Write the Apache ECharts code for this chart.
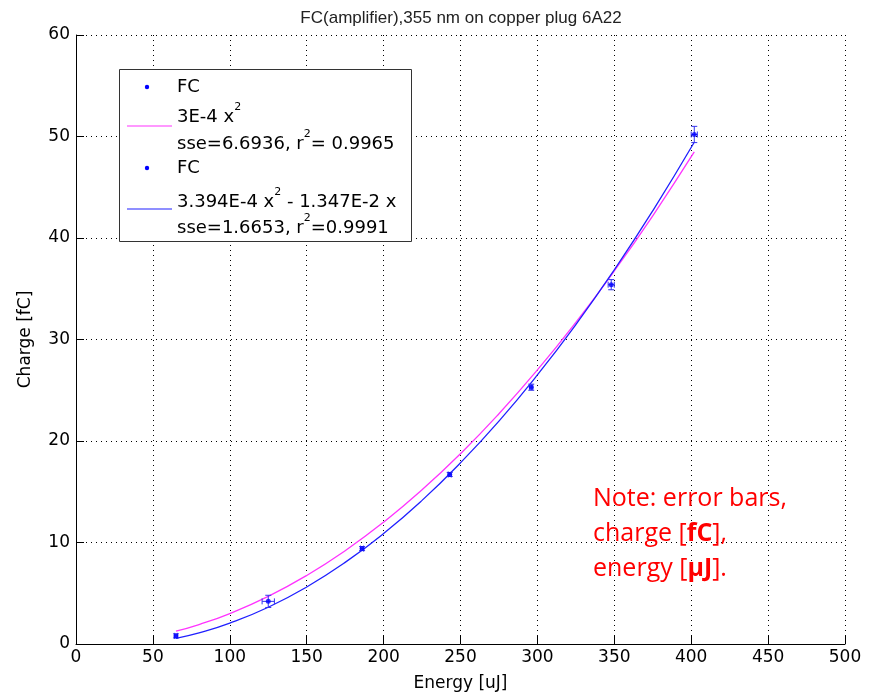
<!DOCTYPE html>
<html><head><meta charset="utf-8">
<script src="https://cdn.jsdelivr.net/npm/echarts@6/dist/echarts.min.js"></script>
<style>html,body{margin:0;padding:0;background:#fff}#c{width:875px;height:697px}</style>
</head><body><div id="c"></div>
<script>
// Measured data (energy uJ, charge fC) with error bars
const energy = [65, 125, 186, 243, 296, 348, 402];
const charge = [0.8, 4.2, 9.4, 16.7, 25.3, 35.4, 50.2];
const energyErr = [1, 4, 1, 1, 1, 2, 2];
const chargeErr = [0.2, 0.6, 0.2, 0.2, 0.3, 0.5, 0.8];
// Fit curves, sampled
const fitX = [65, 80, 100, 125, 150, 175, 200, 225, 250, 275, 300, 325, 350, 375, 402];
const fit1Y = [1.27, 1.92, 3.0, 4.69, 6.75, 9.19, 12.0, 15.19, 18.75, 22.69, 27.0, 31.69, 36.75, 42.19, 48.48];
const fit2Y = [0.56, 1.09, 2.05, 3.62, 5.62, 8.04, 10.88, 14.15, 17.85, 21.96, 26.51, 31.47, 36.86, 42.68, 49.43];
const xTicks = [0, 50, 100, 150, 200, 250, 300, 350, 400, 450, 500];
const yTicks = [0, 10, 20, 30, 40, 50, 60];

const chart = echarts.init(document.getElementById('c'));
const FONT = 'Liberation Sans, Arial, sans-serif';
const WFONT = 'DejaVu Sans, sans-serif';
const pts = energy.map((e, i) => [e, charge[i]]);
const errData = energy.map((e, i) => [e, charge[i], energyErr[i], chargeErr[i]]);
const legRich = {
  n: {fontFamily: WFONT, fontSize: 18, fill: '#000', lineHeight: 24, verticalAlign: 'bottom'},
  s: {fontFamily: WFONT, fontSize: 11, fill: '#000', lineHeight: 24, verticalAlign: 'top'}
};

const opt = {
  animation: false,
  backgroundColor: '#fff',
  title: {
    text: 'FC(amplifier),355 nm on copper plug 6A22',
    left: 456, top: 5, textAlign: 'center',
    textStyle: {fontFamily: FONT, fontSize: 17, fontWeight: 'normal', color: '#222'}
  },
  grid: {left: 76, top: 35, width: 769, height: 612},
  xAxis: {
    type: 'value', min: xTicks[0], max: xTicks[xTicks.length - 1], interval: 50,
    name: 'Energy [uJ]', nameLocation: 'middle', nameGap: 31,
    nameTextStyle: {fontFamily: WFONT, fontSize: 17, color: '#000'},
    axisLine: {lineStyle: {color: '#000', width: 1}},
    axisTick: {inside: true, length: 8, lineStyle: {color: '#000'}},
    axisLabel: {fontFamily: WFONT, fontSize: 17, color: '#000', margin: 5},
    splitLine: {show: true, lineStyle: {color: '#000', type: [1, 4], width: 1}}
  },
  yAxis: {
    type: 'value', min: yTicks[0], max: yTicks[yTicks.length - 1], interval: 10,
    name: 'Charge [fC]', nameLocation: 'middle', nameGap: 42, nameRotate: 90,
    nameTextStyle: {fontFamily: WFONT, fontSize: 17, color: '#000'},
    axisLine: {show: true, lineStyle: {color: '#000', width: 1}},
    axisTick: {show: true, inside: true, length: 8, lineStyle: {color: '#000'}},
    axisLabel: {fontFamily: WFONT, fontSize: 17, color: '#000', margin: 6},
    splitLine: {show: true, lineStyle: {color: '#000', type: [1, 4], width: 1}}
  },
  series: [
    {type: 'line', data: fitX.map((x, i) => [x, fit1Y[i]]), smooth: true, showSymbol: false,
      lineStyle: {color: '#ff33ff', width: 1.3}, z: 2},
    {type: 'line', data: fitX.map((x, i) => [x, fit2Y[i]]), smooth: true, showSymbol: false,
      lineStyle: {color: '#2020ff', width: 1.3}, z: 3},
    {type: 'custom', data: errData, z: 4,
      renderItem: function (params, api) {
        const x = api.value(0), y = api.value(1), ex = api.value(2), ey = api.value(3);
        const c = api.coord([x, y]);
        const l = api.coord([x - ex, y]), r = api.coord([x + ex, y]);
        const t = api.coord([x, y + ey]), b = api.coord([x, y - ey]);
        const cap = 3;
        const st = {stroke: '#3333ee', lineWidth: 1, fill: null};
        return {type: 'group', children: [
          {type: 'line', shape: {x1: l[0], y1: c[1], x2: r[0], y2: c[1]}, style: st},
          {type: 'line', shape: {x1: l[0], y1: c[1] - cap, x2: l[0], y2: c[1] + cap}, style: st},
          {type: 'line', shape: {x1: r[0], y1: c[1] - cap, x2: r[0], y2: c[1] + cap}, style: st},
          {type: 'line', shape: {x1: c[0], y1: t[1], x2: c[0], y2: b[1]}, style: st},
          {type: 'line', shape: {x1: c[0] - cap, y1: t[1], x2: c[0] + cap, y2: t[1]}, style: st},
          {type: 'line', shape: {x1: c[0] - cap, y1: b[1], x2: c[0] + cap, y2: b[1]}, style: st}
        ]};
      }
    },
    {type: 'scatter', data: pts, symbol: 'circle', symbolSize: 5,
      itemStyle: {color: '#0000ff'}, z: 5}
  ],
  graphic: [
    {type: 'rect', shape: {x: 119.5, y: 69.5, width: 292, height: 172},
      style: {fill: '#fff', stroke: '#333', lineWidth: 1}, z: 10},
    {type: 'circle', shape: {cx: 147, cy: 87, r: 2.2}, style: {fill: '#0000ff'}, z: 11},
    {type: 'text', x: 177, y: 87, style: {text: 'FC', font: '18px ' + WFONT, fill: '#000', verticalAlign: 'middle'}, z: 11},
    {type: 'line', shape: {x1: 127, y1: 126, x2: 172, y2: 126}, style: {stroke: '#ff33ff', lineWidth: 1.2}, z: 11},
    {type: 'text', x: 177, y: 102, z: 11, style: {text: '{n|3E-4 x}{s|2}', verticalAlign: 'top', rich: legRich}},
    {type: 'text', x: 177, y: 129, z: 11, style: {text: '{n|sse=6.6936, r}{s|2}{n|= 0.9965}', verticalAlign: 'top', rich: legRich}},
    {type: 'circle', shape: {cx: 147, cy: 168, r: 2.2}, style: {fill: '#0000ff'}, z: 11},
    {type: 'text', x: 177, y: 168, style: {text: 'FC', font: '18px ' + WFONT, fill: '#000', verticalAlign: 'middle'}, z: 11},
    {type: 'line', shape: {x1: 127, y1: 209, x2: 172, y2: 209}, style: {stroke: '#2020ff', lineWidth: 1.2}, z: 11},
    {type: 'text', x: 177, y: 187, z: 11, style: {text: '{n|3.394E-4 x}{s|2}{n| - 1.347E-2 x}', verticalAlign: 'top', rich: legRich}},
    {type: 'text', x: 177, y: 213, z: 11, style: {text: '{n|sse=1.6653, r}{s|2}{n|=0.9991}', verticalAlign: 'top', rich: legRich}},
    {type: 'text', x: 593, y: 481, z: 11, style: {
      text: '{n|Note: error bars,}\n{n|charge [}{b|fC}{n|],}\n{n|energy [}{b|μJ}{n|].}', verticalAlign: 'top',
      rich: {n: {fontFamily: 'Open Sans, Noto Sans, sans-serif', fontSize: 25, fill: '#ff0000', lineHeight: 35},
             b: {fontFamily: 'Open Sans, Noto Sans, sans-serif', fontSize: 25, fontWeight: 'bold', fill: '#ff0000', lineHeight: 35}}}}
  ]
};
chart.setOption(opt);
</script>
</body></html>
